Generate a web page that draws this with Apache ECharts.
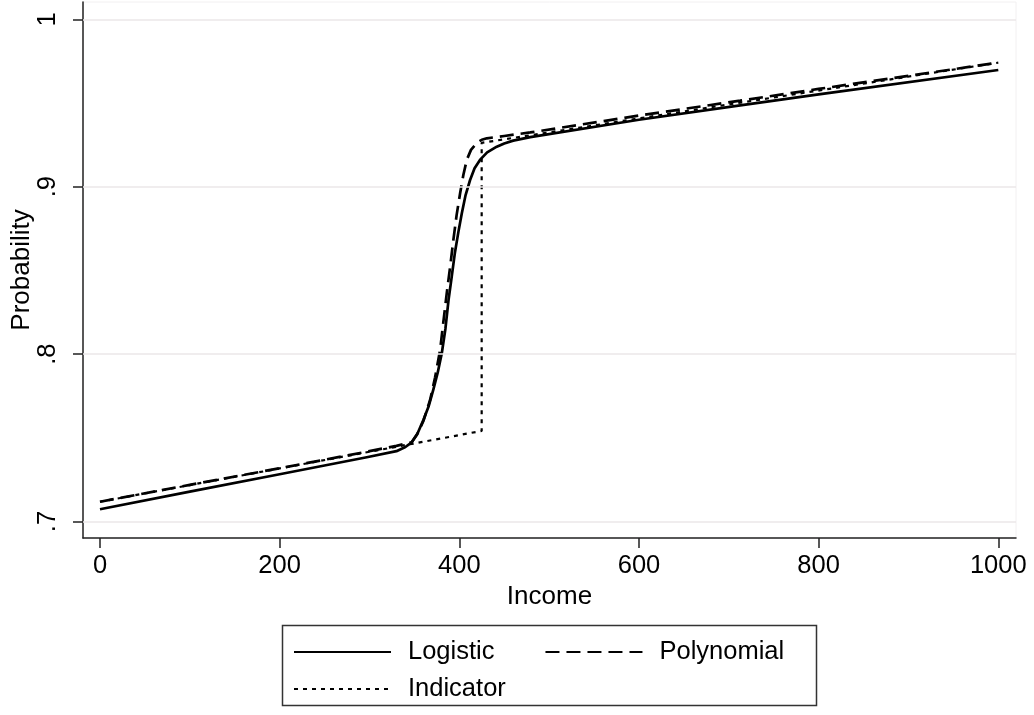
<!DOCTYPE html>
<html>
<head>
<meta charset="utf-8">
<script src="https://cdn.jsdelivr.net/npm/echarts@6/dist/echarts.min.js"></script>
<style>
html,body{margin:0;padding:0;background:#fff;}
#chart{width:1034px;height:715px;}
</style>
</head>
<body>
<div id="chart"></div>
<script>
// Data
const logisticData = [
  [0, 0.7073], [100, 0.7178], [200, 0.7282], [297, 0.7384], [330, 0.7420],
  [340, 0.7445], [347, 0.7473], [353, 0.7520], [360, 0.7606], [366, 0.7690],
  [371, 0.7786], [376, 0.7890], [380.5, 0.8005], [384.5, 0.8150], [388, 0.8323],
  [391.5, 0.8460], [395, 0.8602], [399, 0.8730], [402.8, 0.8841], [407, 0.8950],
  [412, 0.9040], [417, 0.9110], [423, 0.9160], [431, 0.9205], [441.7, 0.9239],
  [450, 0.9258], [460, 0.9275], [479, 0.9296], [600, 0.9400], [712.7, 0.9486],
  [800, 0.9551], [1000, 0.9697]
];
const polynomialData = [
  [0, 0.7118], [100, 0.7219], [200, 0.7318], [297, 0.7417], [330, 0.7452],
  [347, 0.7473], [354, 0.7530], [360, 0.7600], [367.5, 0.7726], [373, 0.7860],
  [378.6, 0.8024], [382, 0.8180], [386, 0.8363], [390, 0.8530], [393.4, 0.8682],
  [397, 0.8830], [400.9, 0.8961], [404.5, 0.9070], [408.3, 0.9160], [413, 0.9220],
  [419.5, 0.9262], [425, 0.9280], [430.6, 0.9289], [450, 0.9303], [479, 0.9324],
  [600, 0.9425], [712.7, 0.9514], [800, 0.9584], [1000, 0.9741]
];
const indicatorData = [
  [0, 0.7118], [424.9, 0.7541], [424.9, 0.9262], [1000, 0.9741]
];
const xTicks = [0, 200, 400, 600, 800, 1000];
const yTicks = [0.7, 0.8, 0.9, 1];
const seriesNames = ['Logistic', 'Polynomial', 'Indicator'];

const FONT = 'Liberation Sans, Arial, Helvetica, sans-serif';
const chart = echarts.init(document.getElementById('chart'), null, {renderer: 'canvas'});

const lineBase = {type: 'line', symbol: 'none', showSymbol: false, animation: false, z: 3, smooth: false};
const legendText = {fontSize: 25.5, color: '#000', fontFamily: FONT, padding: [0, 0, 0, 12], lineHeight: 30};

chart.setOption({
  backgroundColor: '#ffffff',
  animation: false,
  textStyle: {fontFamily: FONT},
  grid: {left: 83, top: 2, right: 18, bottom: 177, containLabel: false, outerBoundsMode: 'none'},
  xAxis: {
    type: 'value',
    min: -18.9, max: 1019.7,
    name: 'Income', nameLocation: 'middle', nameGap: 46, nameMoveOverlap: false,
    nameTextStyle: {fontSize: 26, color: '#000', fontFamily: FONT},
    axisLine: {show: true, onZero: false, lineStyle: {color: '#222', width: 1.5}},
    axisTick: {show: true, length: 10, lineStyle: {color: '#222', width: 1.5}, customValues: xTicks},
    axisLabel: {fontSize: 25.5, color: '#000', margin: 15, fontFamily: FONT, customValues: xTicks,
      formatter: v => String(v)},
    splitLine: {show: false}
  },
  yAxis: {
    type: 'value',
    min: 0.69014, max: 1.01033,
    name: 'Probability', nameLocation: 'middle', nameGap: 48, nameRotate: 90, nameMoveOverlap: false,
    nameTextStyle: {fontSize: 26, color: '#000', fontFamily: FONT},
    axisLine: {show: true, onZero: false, lineStyle: {color: '#222', width: 1.5}},
    axisTick: {show: true, length: 10, lineStyle: {color: '#222', width: 1.5}, customValues: yTicks},
    axisLabel: {
      fontSize: 25.5, color: '#000', margin: 22, rotate: 90, fontFamily: FONT,
      customValues: yTicks,
      formatter: v => (Math.abs(v - 1) < 1e-9 ? '1' : String(Math.round(v * 10) / 10).replace(/^0\./, '.'))
    },
    splitLine: {show: false}
  },
  legend: [
    {
      data: [seriesNames[0], seriesNames[1]],
      left: 293, top: 637, orient: 'horizontal', padding: 0,
      itemWidth: 97, itemHeight: 14, itemGap: 50,
      itemStyle: {opacity: 0},
      textStyle: legendText
    },
    {
      data: [seriesNames[2]],
      left: 293, top: 674, orient: 'horizontal', padding: 0,
      itemWidth: 97, itemHeight: 14,
      itemStyle: {opacity: 0},
      textStyle: legendText
    }
  ],
  graphic: [
    {type: 'rect', shape: {x: 83, y: 2, width: 933, height: 536}, style: {fill: 'none', stroke: '#f2f0f1', lineWidth: 1}, z: -1, silent: true},
    {type: 'rect', shape: {x: 282.5, y: 625.5, width: 534, height: 80}, style: {fill: 'none', stroke: '#333', lineWidth: 1.5}, silent: true}
  ],
  series: [
    {
      type: 'line', name: '_grid', data: [], z: 1, silent: true, animation: false,
      markLine: {
        silent: true, symbol: 'none', animation: false,
        label: {show: false},
        lineStyle: {color: '#ebe7e9', width: 1.5, type: 'solid'},
        emphasis: {disabled: true},
        data: yTicks.map(v => ({yAxis: v}))
      }
    },
    Object.assign({}, lineBase, {
      name: seriesNames[0], data: logisticData,
      lineStyle: {color: '#000', width: 2.7, type: 'solid', join: 'round'}, itemStyle: {color: '#000'}
    }),
    Object.assign({}, lineBase, {
      name: seriesNames[1], data: polynomialData,
      lineStyle: {color: '#000', width: 2.7, type: [14, 7]}, itemStyle: {color: '#000'}
    }),
    Object.assign({}, lineBase, {
      name: seriesNames[2], data: indicatorData,
      lineStyle: {color: '#000', width: 2.2, type: [4, 5]}, itemStyle: {color: '#000'}
    })
  ]
});
</script>
</body>
</html>
